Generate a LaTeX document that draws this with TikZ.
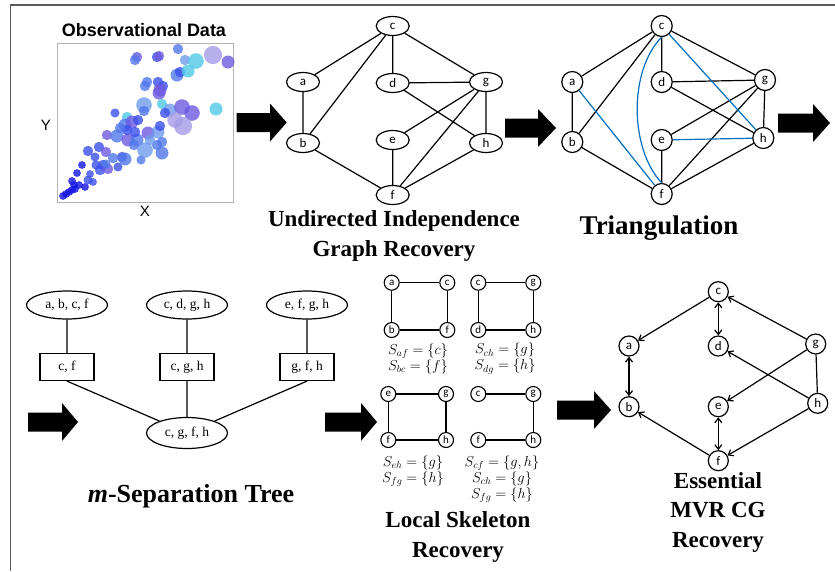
\documentclass[tikz,border=0pt]{standalone}
\usepackage{fontspec}
\setmainfont{Liberation Serif}
\newfontfamily\lsans{Liberation Sans}
\newfontfamily\carl{Carlito}
\usetikzlibrary{shapes.geometric,arrows.meta}
\definecolor{sA}{RGB}{20,20,230}
\definecolor{sB}{RGB}{60,80,235}
\definecolor{sC}{RGB}{80,120,235}
\definecolor{sD}{RGB}{110,155,235}
\definecolor{sE}{RGB}{80,200,230}
\definecolor{sF}{RGB}{110,90,225}
\definecolor{sG}{RGB}{165,155,232}
\definecolor{triblue}{RGB}{0,112,192}
\definecolor{framegray}{RGB}{90,90,90}
\newcommand{\blockarr}[4]{%
  \fill[black] ({#1},{#4-9.5}) -- ({#2},{#4-9.5}) -- ({#2},{#4-19}) -- ({#3},{#4}) -- ({#2},{#4+19}) -- ({#2},{#4+9.5}) -- ({#1},{#4+9.5}) -- cycle;}
\tikzset{
  edge/.style={line width=1.2pt},
  uell/.style={ellipse, draw, line width=1.2pt, minimum width=33pt, minimum height=19pt, inner sep=0pt, font=\carl\fontsize{13}{13}\selectfont},
  tcirc/.style={circle, draw, line width=1.2pt, minimum size=21pt, inner sep=0pt, font=\carl\fontsize{13}{13}\selectfont},
  scirc/.style={circle, draw, line width=1.1pt, minimum size=15pt, inner sep=0pt, font=\carl\fontsize{11}{11}\selectfont},
  mcirc/.style={circle, draw, line width=1.2pt, minimum size=20pt, inner sep=0pt, font=\carl\fontsize{13}{13}\selectfont},
  tell/.style={ellipse, draw, line width=1.2pt, minimum width=81pt, minimum height=28pt, inner sep=0pt, font=\fontsize{13.5}{13.5}\selectfont},
  trect/.style={rectangle, draw, line width=1.2pt, minimum width=54pt, minimum height=27pt, inner sep=0pt, font=\fontsize{13.5}{13.5}\selectfont},
  title/.style={font=\bfseries\fontsize{23}{29.5}\selectfont, align=center},
  sep/.style={font=\fontsize{14}{16}\selectfont, align=center},
  marr/.style={line width=1.2pt, -{Straight Barb[length=4.5pt,width=7pt]}},
  marr2/.style={line width=1.2pt, {Straight Barb[length=4.5pt,width=7pt]}-{Straight Barb[length=4.5pt,width=7pt]}},
  dot/.style={fill opacity=0.8}
}
\begin{document}
\begin{tikzpicture}[x=1pt,y=-1pt]
\useasboundingbox (0,0) rectangle (835,571);
\fill[white] (0,0) rectangle (835,571);
% frame
\draw[framegray, line width=1.3pt] (10.5,571) -- (10.5,5) -- (835,5);

% ---------- scatter plot ----------
\node[font=\lsans\bfseries\fontsize{18}{18}\selectfont] (obstitle) at (144,30) {Observational Data};
\draw[gray!60, line width=0.8pt] (57,43) rectangle (233,202);
\node[font=\lsans\fontsize{15}{15}\selectfont] (ylab) at (46,125) {Y};
\node[font=\lsans\fontsize{15}{15}\selectfont] (xlab) at (145,211) {X};
\foreach \x/\y/\r/\c in {63/196/3/sA, 66/194/3/sA, 69/192/3/sA, 72/190/3/sA, 75/189/3/sA, 74/185/3/sA, 79/185/3/sA, 72/181/3/sA, 85/187/3/sA, 77/173/3/sA, 82/165/3/sA, 88/180/3.5/sB, 93/182/3/sB, 90/174/3/sB, 88/151/4/sB, 99/147/4/sB, 95/157/3.5/sB, 106/152/4/sF, 103/165/4/sB, 100/170/4/sB, 108/169/4/sF, 106/164/3.5/sC, 118/167/3.5/sB, 122/157/4/sB, 125/159/5/sC, 107/135/4/sF, 117/136/5/sC, 128/140/5/sF, 137/140/5/sC, 134/145/4/sC, 141/160/3.5/sC, 145/150/6/sD, 148/133/5/sF, 158/132/5/sD, 157/145/4/sC, 162/142/4/sC, 162/153/5/sC, 160/126/4/sB, 115/113/3.5/sB, 127/117/4/sE, 125/125/5/sC, 132/122/5/sF, 138/120/4/sB, 127/130/4/sB, 144/105/6/sD, 144/111/4/sC, 162/104/4/sE, 170/110/5/sD, 165/113/4/sB, 182/107/6/sF, 192/113/6/sF, 216/109/5/sE, 175/120/6/sG, 183/126/7/sG, 147/82/4/sC, 145/86/4/sC, 158/82/4/sB, 163/86/4/sB, 160/90/5/sF, 159/93/5/sF, 177/75/5/sC, 180/72/4/sB, 188/71/5/sE, 178/49/4/sC, 185/60/4/sD, 196/61/6/sE, 213/55/7/sG, 228/62/5/sF, 137/57/4/sF, 135/60/4/sC, 157/57/4/sB, 159/56/4/sF, 120/128/4/sC, 135/132/4/sB, 113/158/4/sC, 96/165/3.5/sB, 150/140/4/sD}
  \fill[\c, dot] (\x,\y) circle ({\r*1.3});

% ---------- block arrows ----------
\blockarr{236.7}{270}{286.7}{122.5}
\blockarr{505}{538}{556}{128}
\blockarr{778}{813}{830}{123}
\blockarr{28}{62}{78}{422}
\blockarr{325}{361}{377}{422}
\blockarr{557}{594}{611}{410}

% ---------- undirected graph ----------
\node[uell] (uc) at (392.7,26) {c};
\node[uell] (ua) at (303,82) {a};
\node[uell] (ud) at (392.7,83) {d};
\node[uell] (ug) at (486,82) {g};
\node[uell] (ub) at (303,143) {b};
\node[uell] (ue) at (392.7,140) {e};
\node[uell] (uh) at (486,143) {h};
\node[uell] (uf) at (392.7,195) {f};
\draw[edge] (uc) -- (ua) (uc) -- (ub) (uc) -- (ud) (uc) -- (ug)
  (ua) -- (ub) (ud) -- (ug) (ud) -- (uh) (ug) -- (ue) (ug) -- (uf) (ug) -- (uh)
  (ub) -- (uf) (ue) -- (uf) (uh) -- (uf);
\node[title] (utitle) at (394,236) {Undirected Independence\\Graph Recovery};

% ---------- triangulation ----------
\node[tcirc] (tc) at (661.7,26) {c};
\node[tcirc] (ta) at (572.3,82) {a};
\node[tcirc] (td) at (661.7,82) {d};
\node[tcirc] (tg) at (765,80) {g};
\node[tcirc] (tb) at (572.3,142) {b};
\node[tcirc] (te) at (661.7,140) {e};
\node[tcirc] (th) at (763.3,138) {h};
\node[tcirc] (tf) at (661.7,194) {f};
\draw[edge] (tc) -- (ta) (tc) -- (tb) (tc) -- (td) (tc) -- (tg)
  (ta) -- (tb) (td) -- (tg) (td) -- (th) (tg) -- (te) (tg) -- (tf) (tg) -- (th)
  (tb) -- (tf) (te) -- (tf) (th) -- (tf);
\draw[edge, triblue] (ta) -- (tf) (tc) -- (th) (te) -- (th);
\draw[edge, triblue] (tc.south) .. controls (629,70) and (629,148) .. (tf.north);
\node[font=\bfseries\fontsize{27}{27}\selectfont] (ttitle) at (659,228) {Triangulation};

% ---------- m-separation tree ----------
\node[tell] (e1) at (67,305) {a, b, c, f};
\node[tell] (e2) at (187,305) {c, d, g, h};
\node[tell] (e3) at (307,305) {e, f, g, h};
\node[trect] (r1) at (67,367) {c, f};
\node[trect] (r2) at (187,367) {c, g, h};
\node[trect] (r3) at (307,367) {g, f, h};
\node[tell, minimum height=31pt] (e4) at (187,433) {c, g, f, h};
\draw[edge] (e1) -- (r1) (e2) -- (r2) (e3) -- (r3)
  (r1.south) -- (e4) (r2) -- (e4) (r3.south) -- (e4);
\node[font=\bfseries\fontsize{26}{26}\selectfont] (mtitle) at (191,496) {\textit{m}-Separation Tree};

% ---------- local skeleton ----------
\node[scirc] (q1a) at (391.7,282.7) {a};
\node[scirc] (q1c) at (447.3,282.7) {c};
\node[scirc] (q1b) at (391.7,330) {b};
\node[scirc] (q1f) at (447.3,330) {f};
\draw[edge] (q1a) -- (q1c) (q1a) -- (q1b) (q1c) -- (q1f) (q1b) -- (q1f);
\node[scirc] (q2c) at (478.3,282.7) {c};
\node[scirc] (q2g) at (533.3,282.7) {g};
\node[scirc] (q2d) at (478.3,330) {d};
\node[scirc] (q2h) at (533.3,330) {h};
\draw[edge] (q2c) -- (q2g) (q2c) -- (q2d) (q2g) -- (q2h) (q2d) -- (q2h);
\node[scirc] (q3e) at (388.3,394) {e};
\node[scirc] (q3g) at (446,394) {g};
\node[scirc] (q3f) at (388.3,440) {f};
\node[scirc] (q3h) at (446,440) {h};
\draw[edge] (q3e) -- (q3g) (q3e) -- (q3f) (q3g) -- (q3h) (q3f) -- (q3h);
\node[scirc] (q4c) at (478.3,394) {c};
\node[scirc] (q4g) at (533.3,394) {g};
\node[scirc] (q4f) at (478.3,440) {f};
\node[scirc] (q4h) at (533.3,440) {h};
\draw[edge] (q4c) -- (q4g) (q4g) -- (q4h) (q4f) -- (q4h);
\node[sep] (s1) at (418,358.5) {$S_{af} = \{c\}$\\$S_{bc} = \{f\}$};
\node[sep] (s2) at (505,358.5) {$S_{ch} = \{g\}$\\$S_{dg} = \{h\}$};
\node[sep] (s3) at (413,471) {$S_{eh} = \{g\}$\\$S_{fg} = \{h\}$};
\node[sep] (s4) at (502,479) {$S_{cf} = \{g, h\}$\\$S_{ch} = \{g\}$\\$S_{fg} = \{h\}$};
\node[title] (ltitle) at (458,537) {Local Skeleton\\Recovery};

% ---------- essential MVR CG ----------
\node[mcirc] (mc) at (718.3,291.7) {c};
\node[mcirc] (ma) at (629,346) {a};
\node[mcirc] (md) at (718.3,346) {d};
\node[mcirc] (mg) at (815.7,344) {g};
\node[mcirc] (mb) at (629,406.7) {b};
\node[mcirc] (me) at (718.3,406.7) {e};
\node[mcirc] (mh) at (817.7,403.3) {h};
\node[mcirc] (mf) at (718.3,460.7) {f};
\draw[marr] (mc) -- (ma);
\draw[marr2] (mc) -- (md);
\draw[marr] (mg) -- (mc);
\draw[marr2] (ma) -- (mb);
\draw[marr] (mh) -- (md);
\draw[marr] (mg) -- (me);
\draw[edge] (mg) -- (mh);
\draw[marr] (mf) -- (mb);
\draw[marr2] (me) -- (mf);
\draw[marr] (mh) -- (mf);
\node[title] (mtitle2) at (718,512) {Essential\\MVR CG\\Recovery};
\end{tikzpicture}
\end{document}
